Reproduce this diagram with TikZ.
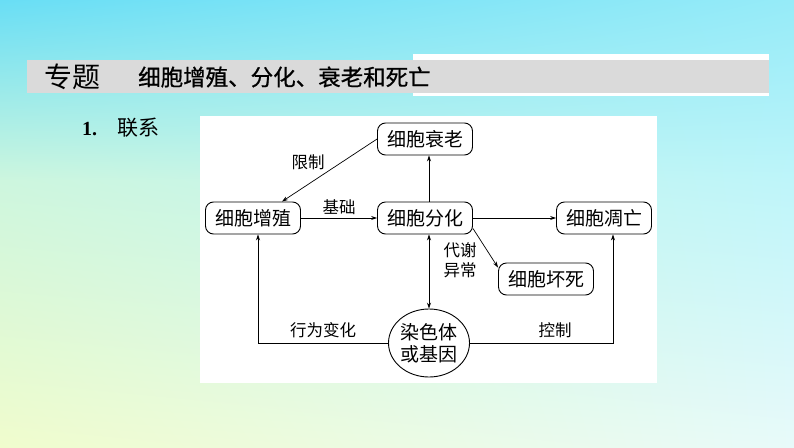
\documentclass[tikz,border=0pt]{standalone}
\usepackage{fontspec}
\setmainfont{Liberation Serif}
\newfontfamily\cjk{Noto Sans CJK SC}
\newfontfamily\cjkmed[FakeBold=0.8]{Noto Sans CJK SC}
\usetikzlibrary{arrows.meta,shapes.geometric,shadings}
\definecolor{bgA}{RGB}{105,222,245}
\definecolor{bgB}{RGB}{150,235,248}
\definecolor{bgC}{RGB}{205,246,222}
\definecolor{bgD}{RGB}{190,245,250}
\definecolor{bgE}{RGB}{240,252,205}
\definecolor{bgF}{RGB}{232,250,250}
\definecolor{bargray}{RGB}{218,218,218}
\begin{document}
\begin{tikzpicture}[x=1pt,y=-1pt,
  box/.style={draw,rounded corners=8pt,minimum width=95pt,minimum height=32pt,inner sep=0pt,line width=0.9pt,font=\cjk\fontsize{19}{19}\selectfont},
  lab/.style={font=\cjk\fontsize{16.5}{19.5}\selectfont,inner sep=1pt,align=center},
  arr/.style={-{Stealth[length=6pt,width=4pt]},line width=0.7pt},
  arrtwo/.style={{Stealth[length=6pt,width=4pt]}-{Stealth[length=6pt,width=4pt]},line width=0.7pt}
]
\useasboundingbox (0,0) rectangle (794,447);
% background
\shade[upper left=bgA,upper right=bgB,lower left=bgC,lower right=bgD] (0,0) rectangle (794,180.5);
\shade[upper left=bgC,upper right=bgD,lower left=bgE,lower right=bgF] (0,180) rectangle (794,447);
% title bar
\fill[white] (413,54) rectangle (769,95.5);
\fill[bargray] (27,60) rectangle (769,93);
\node[anchor=west,inner sep=0pt,font=\cjk\fontsize{28}{28}\selectfont] (t1) at (44,77) {专题};
\node[anchor=west,inner sep=0pt,font=\cjkmed\fontsize{22.5}{22.5}\selectfont] (t2) at (138,77) {细胞增殖、分化、衰老和死亡};
% section heading
\node[anchor=west,inner sep=0pt,font=\bfseries\fontsize{20}{20}\selectfont] (n1) at (82,129) {1.};
\node[anchor=west,inner sep=0pt,font=\cjk\fontsize{21}{21}\selectfont] (lx) at (117,128) {联系};
% diagram panel
\fill[white] (200,116) rectangle (657,383);
% nodes
\node[box] (shuai) at (425,139) {细胞衰老};
\node[box] (zeng) at (253,218) {细胞增殖};
\node[box] (fen) at (425,218) {细胞分化};
\node[box] (diao) at (604,218) {细胞凋亡};
\node[box] (huai) at (546,279) {细胞坏死};
\node[draw,ellipse,line width=0.9pt,minimum width=81pt,minimum height=68pt,inner sep=0pt,align=center,font=\cjk\fontsize{19}{22}\selectfont] (gene) at (429,343) {染色体\\或基因};
% connectors
\draw[arr] (shuai.west) -- ([xshift=29pt]zeng.north);
\node[lab] (lxz) at (308,162) {限制};
\draw[arr] (zeng.east) -- node[lab,above=2pt] (ljc) {基础} (fen.west);
\draw[arr] (gene.north |- fen.north) -- (gene.north |- shuai.south);
\draw[arr] (fen.east) -- (diao.west);
\draw[arr] ([yshift=6pt]fen.south east) -- ([yshift=-5pt]huai.north west);
\node[lab] (ldx) at (460,260) {代谢\\异常};
\draw[arrtwo] (gene.north |- fen.south) -- (gene.north);
\draw[arr] (gene.west) -| ([xshift=5pt]zeng.south);
\node[lab] (lxw) at (323,330) {行为变化};
\draw[arr] (gene.east) -| ([xshift=9pt]diao.south);
\node[lab] (lkz) at (555,330) {控制};
\end{tikzpicture}
\end{document}
